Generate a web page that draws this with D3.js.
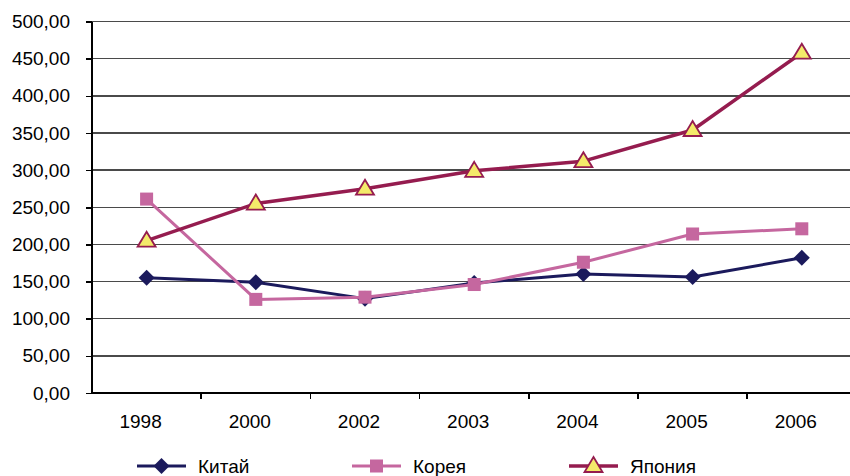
<!DOCTYPE html>
<meta charset="utf-8">
<style>
body { margin: 0; background: #fff; }
svg { display: block; }
.axis text { font: 19px "Liberation Sans", Arial, sans-serif; fill: #000; }
.axis path, .axis line { stroke: #000; stroke-width: 1.5; shape-rendering: crispEdges; }
.grid line { stroke: #4a4a4a; stroke-width: 1.5; shape-rendering: crispEdges; }
.legend text { font: 19px "Liberation Sans", Arial, sans-serif; fill: #000; }
</style>
<svg width="850" height="476"></svg>
<script src="https://d3js.org/d3.v7.min.js"></script>
<script>

// years on the x axis
var years = ["1998", "2000", "2002", "2003", "2004", "2005", "2006"];

// values
var china = [155, 149, 127, 148, 160, 156, 182];
var korea = [261, 126, 129, 146, 176, 214, 221];
var japan = [205, 255, 275, 299, 312, 354, 458];

var yTicks = [0, 50, 100, 150, 200, 250, 300, 350, 400, 450, 500];

var svg = d3.select("svg"),
    margin = {top: 21.5, left: 92, bottom: 83},
    height = 476 - margin.top - margin.bottom;

// plot runs past the right edge of the picture, like the source
var x = d3.scaleBand()
    .domain(years)
    .range([0, 109.2 * years.length]);

var y = d3.scaleLinear()
    .domain([0, 500])
    .range([height, 0]);

var g = svg.append("g")
    .attr("transform", "translate(" + margin.left + "," + margin.top + ")");

g.append("g")
    .attr("class", "grid")
  .selectAll("line").data(yTicks.slice(1)).enter().append("line")
    .attr("x1", 0)
    .attr("x2", x.range()[1])
    .attr("y1", function(d) { return y(d); })
    .attr("y2", function(d) { return y(d); });

var fmt = function(d) { return d3.format(".2f")(d).replace(".", ","); };

g.append("g")
    .attr("class", "axis axis--y")
    .call(d3.axisLeft(y).tickValues(yTicks).tickFormat(fmt).tickSize(6).tickPadding(16))
    .call(function(a) { a.select(".domain").attr("d", "M0," + height + "V0"); });

var xAxis = g.append("g")
    .attr("class", "axis axis--x")
    .attr("transform", "translate(0," + height + ")")
    .call(d3.axisBottom(x).tickSize(0).tickPadding(22));

xAxis.select(".domain").attr("d", "M0,0H" + x.range()[1]);
xAxis.selectAll(".tick text").attr("dx", -6);

// tick marks sit between categories
xAxis.selectAll(".sep").data(years.slice(1)).enter().append("line")
    .attr("class", "sep")
    .attr("x1", function(d) { return x(d); })
    .attr("x2", function(d) { return x(d); })
    .attr("y1", 0)
    .attr("y2", 6);

var cx = function(d, i) { return x(years[i]) + x.bandwidth() / 2; };

var series = [
  {name: "Китай", values: china, color: "#1b1a5c", width: 3, marker: "diamond"},
  {name: "Корея", values: korea, color: "#c5679f", width: 3, marker: "square"},
  {name: "Япония", values: japan, color: "#951c4f", width: 3.5, marker: "triangle"}
];

function drawMarker(sel, s) {
  if (s.marker == "diamond") {
    sel.append("path")
        .attr("d", "M0,-8L8,0L0,8L-8,0Z")
        .attr("fill", s.color);
  } else if (s.marker == "square") {
    sel.append("rect")
        .attr("x", -6.5).attr("y", -6.5)
        .attr("width", 13).attr("height", 13)
        .attr("fill", s.color);
  } else {
    sel.append("path")
        .attr("d", "M0,-9L9,6L-9,6Z")
        .attr("fill", "#f4ea6a")
        .attr("stroke", s.color)
        .attr("stroke-width", 1.8)
        .attr("stroke-linejoin", "miter");
  }
}

var line = d3.line()
    .x(cx)
    .y(function(d) { return y(d); });

series.forEach(function(s) {
  g.append("path")
      .datum(s.values)
      .attr("fill", "none")
      .attr("stroke", s.color)
      .attr("stroke-width", s.width)
      .attr("stroke-linejoin", "round")
      .attr("d", line);

  g.append("g").selectAll("g").data(s.values).enter().append("g")
      .attr("transform", function(d, i) { return "translate(" + cx(d, i) + "," + y(d) + ")"; })
      .each(function() { drawMarker(d3.select(this), s); });
});

// legend
var legendX = [137, 352, 569];
var legend = svg.append("g").attr("class", "legend");

series.forEach(function(s, i) {
  var lg = legend.append("g").attr("transform", "translate(" + legendX[i] + ",466)");
  lg.append("line")
      .attr("x1", 0).attr("x2", 49)
      .attr("stroke", s.color)
      .attr("stroke-width", s.width);
  drawMarker(lg.append("g").attr("transform", "translate(24.5,0)"), s);
  lg.append("text")
      .attr("x", 61)
      .attr("y", 7)
      .text(s.name);
});

</script>
